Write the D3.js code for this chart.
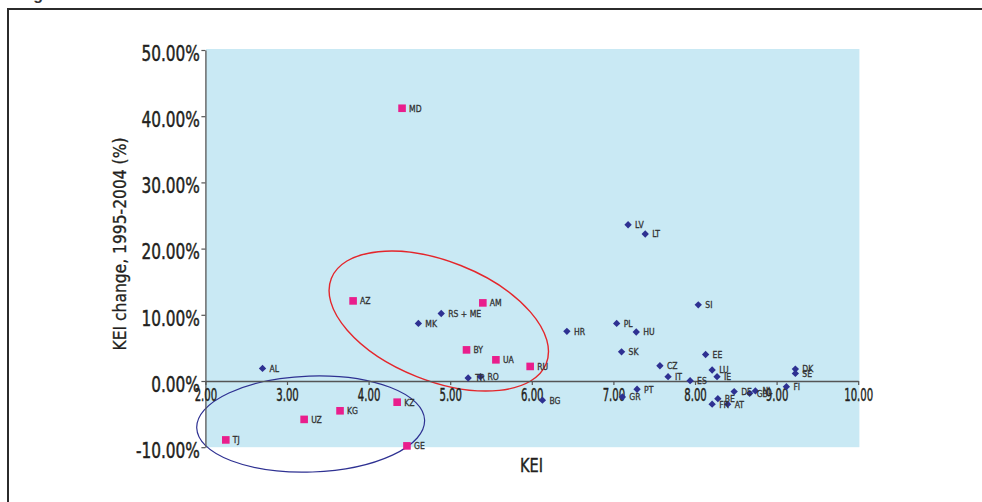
<!DOCTYPE html>
<html><head><meta charset="utf-8">
<script src="https://cdn.jsdelivr.net/npm/d3@7"></script>
<style>html,body{margin:0;padding:0;background:#fff;} svg{display:block;}</style>
</head><body><svg id="chart" width="982" height="502"></svg>
<script>
// ---- data ----
const codes = ["MD","AZ","AM","BY","UA","RU","KZ","KG","UZ","TJ","GE",
  "AL","MK","RS + ME","HR","TR","RO","BG","LV","LT","SI","PL","HU","SK","EE","CZ","IT","LU","IE","ES",
  "DK","SE","FI","PT","GR","DE","NL","GB","BE","FR","AT"];
const keiValues = [4.41,3.81,5.40,5.20,5.56,5.98,4.35,3.65,3.21,2.25,4.47,
  2.70,4.61,4.89,6.43,5.22,5.37,6.13,7.18,7.39,8.04,7.04,7.28,7.10,8.13,7.57,7.67,8.21,8.27,7.94,
  9.23,9.23,9.12,7.29,7.11,8.48,8.74,8.67,8.28,8.21,8.40];
const changeValues = [41.2,12.1,11.8,4.7,3.2,2.2,-3.2,-4.5,-5.8,-8.9,-9.8,
  1.9,8.7,10.2,7.5,0.45,0.65,-2.9,23.6,22.2,11.5,8.7,7.4,4.4,4.0,2.3,0.65,1.66,0.65,0.05,
  1.8,1.15,-0.86,-1.25,-2.4,-1.6,-1.5,-1.86,-2.67,-3.5,-3.5];
const groups = ["cis","cis","cis","cis","cis","cis","cis","cis","cis","cis","cis",
  "eu","eu","eu","eu","eu","eu","eu","eu","eu","eu","eu","eu","eu","eu","eu","eu","eu","eu","eu",
  "eu","eu","eu","eu","eu","eu","eu","eu","eu","eu","eu"];
const xTicks = [2,3,4,5,6,7,8,9,10];
const yTicks = [-10,0,10,20,30,40,50];
const xTitle = "KEI";
const yTitle = "KEI change, 1995-2004 (%)";
// annotation ellipses, centres in data units
const ellipseKEI = [4.86, 3.29];
const ellipseChange = [9.06, -6.5];

// ---- drawing ----
const svg = d3.select("#chart");
const NARROW = "'Liberation Sans Narrow','Arial Narrow','DejaVu Sans Condensed',sans-serif";
const INK = "#231F20";
const x = d3.scaleLinear().domain([2,10]).range([205.4,858.2]);
const y = d3.scaleLinear().domain([-10,50]).range([447.2,50]);

function measure(txt, size) {
  const t = svg.append("text").attr("font-family",NARROW).attr("font-size",size).text(txt);
  const w = t.node().getComputedTextLength();
  t.remove();
  return w;
}
// horizontal squeeze factors (reference font is a condensed face)
const kY = 58.5 / measure("50.00%", 20.5);
const kX = 22.5 / measure("3.00", 18.5);
const kL = 33 / measure("RS + ME", 9.5);
const kT = 23 / measure("KEI", 20);

// outer frame
svg.append("path").attr("d","M8,502V9H982").attr("fill","none")
  .attr("stroke","#2b2b2b").attr("stroke-width",2);
svg.append("text").attr("x",19).attr("y",0).attr("font-family","'Liberation Sans',sans-serif")
  .attr("font-weight","bold").attr("font-size",16).attr("fill","#333").text("Figure");

// plot background
svg.append("rect").attr("x",x(2)+0.6).attr("y",y(50)-1)
  .attr("width",x(10)-x(2)+0.6).attr("height",y(-10)-y(50)+1).attr("fill","#C9E9F4");

// ellipses
const ellStyle = [
  {rx:115.6, ry:59.7, rot:21.6, color:"#E4262B", w:1.4},
  {rx:114, ry:48, rot:-2, color:"#2E3192", w:1.2}
];
ellipseKEI.forEach((k,i)=>{
  const s = ellStyle[i];
  svg.append("ellipse")
    .attr("transform",`translate(${x(k)},${y(ellipseChange[i])}) rotate(${s.rot})`)
    .attr("rx",s.rx).attr("ry",s.ry).attr("fill","none")
    .attr("stroke",s.color).attr("stroke-width",s.w);
});

// y axis
const yAxis = svg.append("g").attr("transform",`translate(${x(2)},0)`)
  .call(d3.axisLeft(y).tickValues(yTicks).tickSize(4).tickSizeOuter(0).tickPadding(1.5)
    .tickFormat(d=>d.toFixed(2)+"%"));
yAxis.select(".domain").attr("stroke","#555").attr("stroke-width",1.3);
yAxis.selectAll(".tick line").attr("stroke","#555").attr("stroke-width",1.2);
yAxis.selectAll(".tick text").attr("font-family",NARROW).attr("font-size",20.5)
  .attr("fill",INK).attr("stroke",INK).attr("stroke-width",0.45).attr("dy","0.5em")
  .attr("x",-5.5/kY).attr("transform",`scale(${kY},1)`);

// x axis at zero
const xAxis = svg.append("g").attr("transform",`translate(0,${y(0)})`)
  .call(d3.axisBottom(x).tickValues(xTicks).tickSize(4).tickSizeOuter(0).tickPadding(3)
    .tickFormat(d=>d.toFixed(2)));
xAxis.select(".domain").attr("stroke","#555").attr("stroke-width",1.5);
xAxis.selectAll(".tick line").attr("stroke","#555").attr("stroke-width",1.2);
xAxis.selectAll(".tick text").attr("font-family",NARROW).attr("font-size",18.5)
  .attr("fill",INK).attr("stroke",INK).attr("stroke-width",0.45)
  .attr("transform",`scale(${kX},1)`);

// points
const pts = codes.map((c,i)=>({c, k:keiValues[i], v:changeValues[i], g:groups[i]}));
const gp = svg.append("g");
pts.forEach(p=>{
  const px = x(p.k), py = y(p.v);
  if (p.g==="cis") {
    gp.append("rect").attr("x",px-3.8).attr("y",py-3.8).attr("width",7.6).attr("height",7.6)
      .attr("fill","#E91E8C");
  } else {
    gp.append("path").attr("d",d3.symbol(d3.symbolSquare, 27)())
      .attr("transform",`translate(${px},${py}) rotate(45)`).attr("fill","#2E3192");
  }
});
pts.forEach(p=>{
  gp.append("text").attr("x",(x(p.k)+7)/kL).attr("y",y(p.v)+3.4)
    .attr("transform",`scale(${kL},1)`)
    .attr("font-family",NARROW).attr("font-size",9.5).attr("fill","#333")
    .attr("stroke","#333").attr("stroke-width",0.3).text(p.c);
});

// titles
svg.append("text").attr("x",531.5/kT).attr("y",472).attr("text-anchor","middle")
  .attr("transform",`scale(${kT},1)`)
  .attr("font-family",NARROW).attr("font-size",20).attr("fill",INK)
  .attr("stroke",INK).attr("stroke-width",0.4).text(xTitle);
svg.append("text").attr("transform","translate(126,244) rotate(-90)").attr("text-anchor","middle")
  .attr("font-family",NARROW).attr("font-size",17.5).attr("fill",INK)
  .attr("stroke",INK).attr("stroke-width",0.3)
  .attr("textLength",213).attr("lengthAdjust","spacingAndGlyphs").text(yTitle);
</script></body></html>
